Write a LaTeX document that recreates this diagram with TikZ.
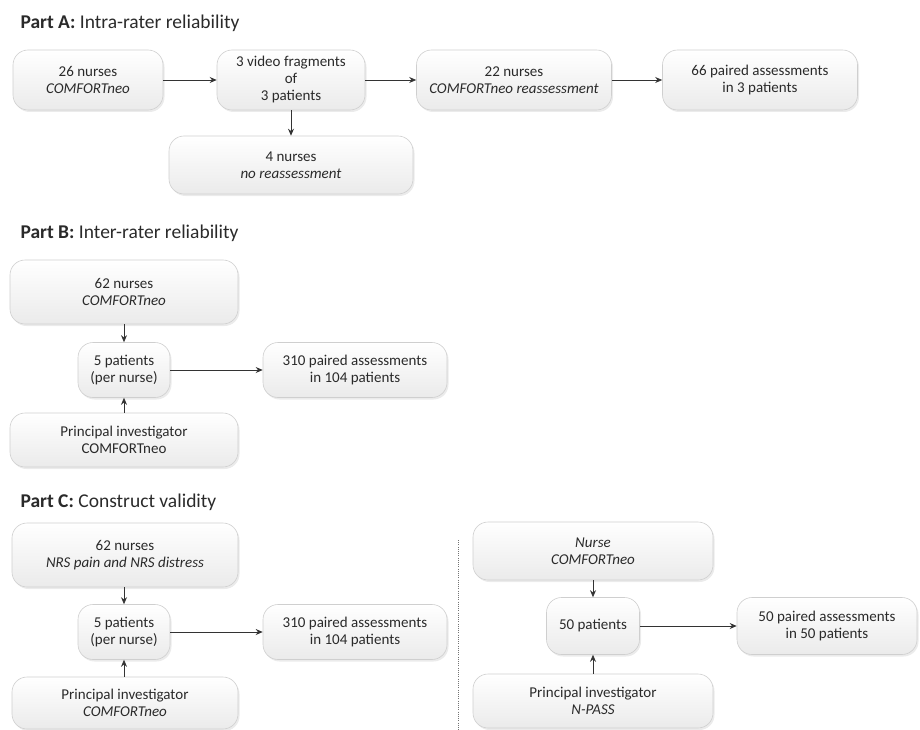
\documentclass[tikz,border=0pt]{standalone}
\usepackage{fontspec}
\setmainfont{Carlito}
\usetikzlibrary{arrows.meta,shadows}
\definecolor{txt}{HTML}{2A2A2A}
\definecolor{edge}{HTML}{CFCFCF}
\tikzset{
  box/.style={draw=edge, line width=0.6pt, rounded corners=15pt,
    top color=white, bottom color=black!8, align=center,
    font=\fontsize{15}{17}\selectfont, text=txt, inner sep=2pt,
    drop shadow={opacity=0.16, shadow xshift=1.5pt, shadow yshift=-2pt}},
  arr/.style={draw=black!80, line width=0.8pt, -{Stealth[length=7pt,width=6pt]}},
  title/.style={anchor=west, font=\fontsize{19.5}{22}\selectfont, text=txt},
  sep/.style={draw=black!55, line width=1pt, dash pattern=on 1pt off 1.2pt}
}
\begin{document}
\begin{tikzpicture}[x=1pt,y=-1pt]
\useasboundingbox (0,0) rectangle (920,730);
% Titles
\node[title] (tA) at (17,23) {\textbf{Part A:} Intra-rater reliability};
\node[title] (tB) at (17,233) {\textbf{Part B:} Inter-rater reliability};
\node[title] (tC) at (17,502) {\textbf{Part C:} Construct validity};
% Part A
\node[box, minimum width=150, minimum height=60] (A1) at (88,80) {26 nurses\\\textit{COMFORTneo}};
\node[box, minimum width=148, minimum height=60] (A2) at (291,80) {3 video fragments\\of\\3 patients};
\node[box, minimum width=195, minimum height=60] (A3) at (514,80) {22 nurses\\\textit{COMFORTneo reassessment}};
\node[box, minimum width=195, minimum height=60] (A5) at (760,80) {66 paired assessments\\in 3 patients};
\node[box, minimum width=244, minimum height=58] (A4) at (291,165) {4 nurses\\\textit{no reassessment}};
\draw[arr] (A1) -- (A2);
\draw[arr] (A2) -- (A3);
\draw[arr] (A3) -- (A5);
\draw[arr] (A2) -- (A4);
% Part B
\node[box, minimum width=228, minimum height=64] (B1) at (124,292) {62 nurses\\\textit{COMFORTneo}};
\node[box, minimum width=92, minimum height=55] (B2) at (124,370) {5 patients\\(per nurse)};
\node[box, minimum width=184, minimum height=55] (B3) at (355,370) {310 paired assessments\\in 104 patients};
\node[box, minimum width=228, minimum height=54] (B4) at (124,440) {Principal investigator\\COMFORTneo};
\draw[arr] (B1) -- (B2);
\draw[arr] (B4) -- (B2);
\draw[arr] (B2) -- (B3);
% Part C left
\node[box, minimum width=226, minimum height=64] (C1) at (125,555) {62 nurses\\\textit{NRS pain and NRS distress}};
\node[box, minimum width=92, minimum height=55] (C2) at (124,632) {5 patients\\(per nurse)};
\node[box, minimum width=184, minimum height=55] (C3) at (355,632) {310 paired assessments\\in 104 patients};
\node[box, minimum width=226, minimum height=52] (C4) at (125,703) {Principal investigator\\\textit{COMFORTneo}};
\draw[arr] (C1.south -| C2) -- (C2);
\draw[arr] (C4.north -| C2) -- (C2);
\draw[arr] (C2) -- (C3);
% separator
\coordinate (s1) at (458,540);
\coordinate (s2) at (458,730);
\draw[sep] (s1) -- (s2);
% Part C right
\node[box, minimum width=240, minimum height=58] (D1) at (593,551) {\textit{Nurse}\\\textit{COMFORTneo}};
\node[box, minimum width=93, minimum height=57] (D2) at (593,626) {50 patients};
\node[box, minimum width=180, minimum height=57] (D3) at (827,626) {50 paired assessments\\in 50 patients};
\node[box, minimum width=240, minimum height=54] (D4) at (593,701) {Principal investigator\\\textit{N-PASS}};
\draw[arr] (D1) -- (D2);
\draw[arr] (D4) -- (D2);
\draw[arr] (D2) -- (D3);
\end{tikzpicture}
\end{document}
